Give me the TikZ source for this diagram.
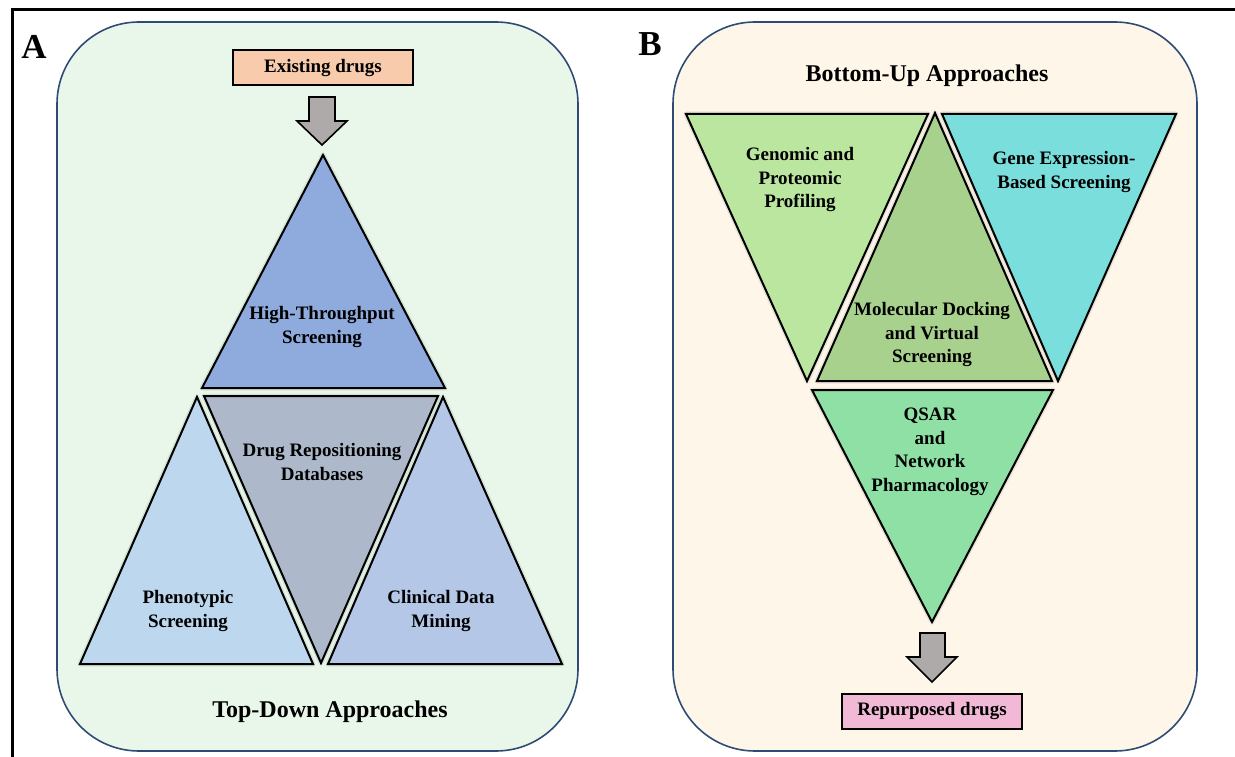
\documentclass[tikz,border=0pt]{standalone}
\usepackage{fontspec}
\setmainfont{Liberation Serif}
\usetikzlibrary{positioning,calc}

\definecolor{bgA}{HTML}{E8F7EA}
\definecolor{bgB}{HTML}{FDF6E9}
\definecolor{edgeblue}{HTML}{2F4B74}
\definecolor{peach}{HTML}{F8CBAD}
\definecolor{pinkbox}{HTML}{F1B9D6}
\definecolor{arrgray}{HTML}{AEAAAA}
\definecolor{htsblue}{HTML}{8FAADC}
\definecolor{drdgray}{HTML}{ADB9CA}
\definecolor{phenblue}{HTML}{BDD7EE}
\definecolor{clinblue}{HTML}{B4C7E7}
\definecolor{gengreen}{HTML}{BAE6A0}
\definecolor{molgreen}{HTML}{A9D18E}
\definecolor{genecyan}{HTML}{7ADEDC}
\definecolor{qsargreen}{HTML}{8FE0A5}

\begin{document}
\begin{tikzpicture}[x=1pt, y=-1pt,
    panel/.style={draw=edgeblue, line width=1.6pt, rounded corners=82pt},
    tri/.style={draw=black, line width=2pt,
        preaction={draw=black, line width=5pt, opacity=0.08, line join=round}},
    lbl/.style={font=\fontsize{19}{23.5}\selectfont\bfseries, align=center, inner sep=0pt},
    heading/.style={font=\fontsize{24}{28}\selectfont\bfseries, inner sep=0pt},
    letter/.style={font=\fontsize{35}{40}\selectfont\bfseries, inner sep=0pt},
    drugbox/.style={draw, line width=2pt, minimum width=180pt, minimum height=35pt, inner sep=0pt, font=\fontsize{19}{23}\selectfont\bfseries},
    fatarr/.style={draw, line width=1.6pt, fill=arrgray}
]
\useasboundingbox (0,0) rectangle (1235,757);

% frame and panels
\draw[line width=3pt] (12,757) -- (12,10) -- (1235,10);
\draw[panel, fill=bgA] (57,22) rectangle (578,751);
\draw[panel, fill=bgB] (673,22) rectangle (1197,751);

\node[letter] (labA) at (34,47) {A};
\node[letter] (labB) at (650,44) {B};

% A: top-down
\node[drugbox, fill=peach] (exist) at (323,68) {Existing drugs};
\draw[fatarr] (309,97) -- (335,97) -- (335,121) -- (347,121) -- (322,145) -- (297,121) -- (309,121) -- cycle;

\draw[tri, fill=htsblue] (323,155) -- (445,388) -- (202,388) -- cycle;
\draw[tri, fill=drdgray] (204,396) -- (438,396) -- (321,663) -- cycle;
\draw[tri, fill=phenblue] (197,397) -- (313,664) -- (80,664) -- cycle;
\draw[tri, fill=clinblue] (443,397) -- (562,664) -- (328,664) -- cycle;

\node[lbl] (hts) at (322,327) {High-Throughput\\Screening};
\node[lbl] (drd) at (322,462) {Drug Repositioning\\Databases};
\node[lbl] (phen) at (188,611) {Phenotypic\\Screening};
\node[lbl] (clin) at (441,611) {Clinical Data\\Mining};
\node[heading] (topdown) at (330,712) {Top-Down Approaches};

% B: bottom-up
\node[heading] (bottomup) at (927,76) {Bottom-Up Approaches};

\draw[tri, fill=gengreen] (686,114) -- (928,114) -- (807,381) -- cycle;
\draw[tri, fill=molgreen] (935,113) -- (1052,381) -- (817,381) -- cycle;
\draw[tri, fill=genecyan] (942,114) -- (1176,114) -- (1058,381) -- cycle;
\draw[tri, fill=qsargreen] (812,390) -- (1053,390) -- (932,622) -- cycle;

\node[lbl] (gen) at (800,180) {Genomic and\\Proteomic\\Profiling};
\node[lbl] (gene) at (1064,172) {Gene Expression-\\Based Screening};
\node[lbl] (mol) at (932,335) {Molecular Docking\\and Virtual\\Screening};
\node[lbl] (qsar) at (930,452) {QSAR\\and\\Network\\Pharmacology};

\draw[fatarr] (920,633) -- (945,633) -- (945,657) -- (957,657) -- (932,682) -- (907,657) -- (920,657) -- cycle;
\node[drugbox, fill=pinkbox] (repurp) at (932,711) {Repurposed drugs};
\end{tikzpicture}
\end{document}
